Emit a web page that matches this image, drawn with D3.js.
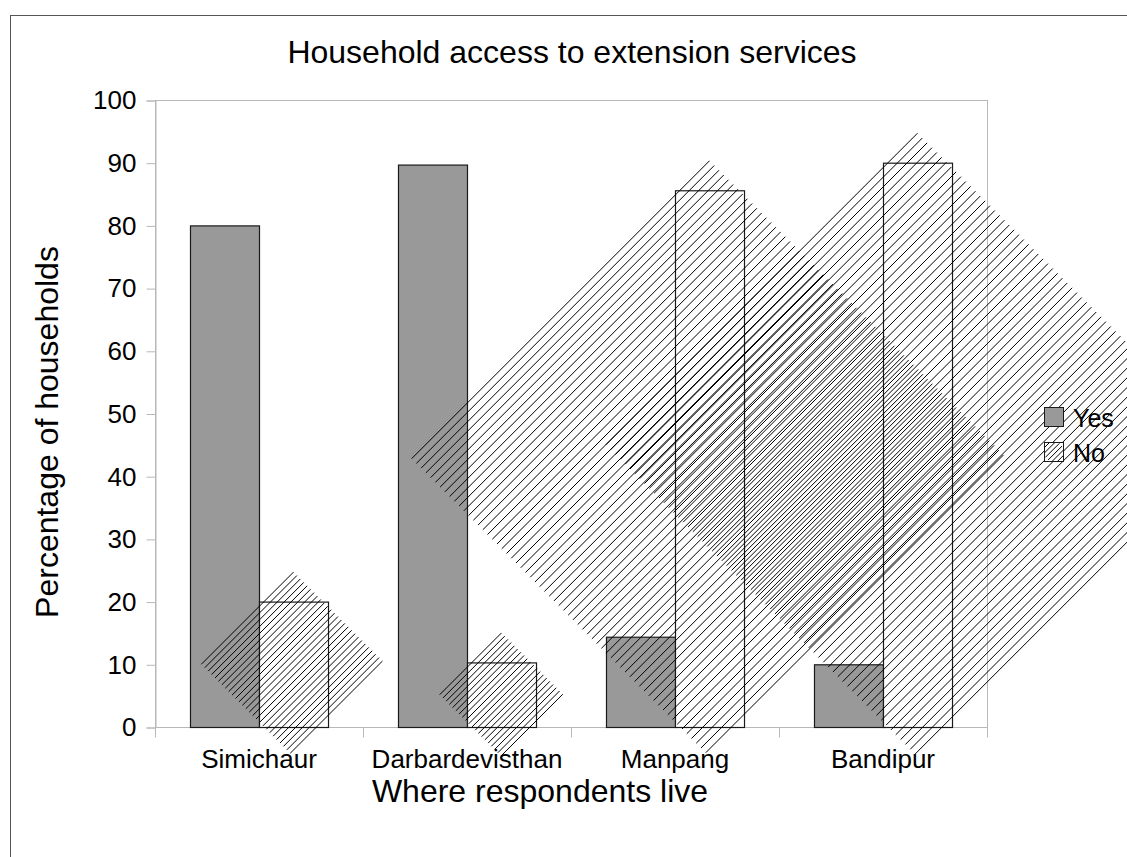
<!DOCTYPE html>
<html>
<head>
<meta charset="utf-8">
<script src="https://cdn.jsdelivr.net/npm/d3@7"></script>
<style>
  html, body { margin: 0; padding: 0; background: #fff; }
  svg { display: block; font-family: "Liberation Sans", Arial, sans-serif; }
</style>
</head>
<body>
<svg id="chart" width="1127" height="857"></svg>
<script>
// Survey results: share of households with / without access to extension services
const categories = ["Simichaur", "Darbardevisthan", "Manpang", "Bandipur"];
const seriesNames = ["Yes", "No"];
const yesValues = [80, 89.7, 14.4, 10];
const noValues = [20, 10.3, 85.6, 90];
const yTicks = [0, 10, 20, 30, 40, 50, 60, 70, 80, 90, 100];

const chartTitle = "Household access to extension services";
const xTitle = "Where respondents live";
const yTitle = "Percentage of households";

const svg = d3.select("#chart");
const W = 1127, H = 857;
const plot = { left: 155, right: 987, top: 100, bottom: 727 };

// outer frame
svg.append("rect")
  .attr("x", 10.5).attr("y", 15.5)
  .attr("width", W + 20).attr("height", H + 20)
  .attr("fill", "#fff").attr("stroke", "#555").attr("stroke-width", 1);

// plot area frame
svg.append("rect")
  .attr("x", plot.left + 0.5).attr("y", plot.top + 0.5)
  .attr("width", plot.right - plot.left).attr("height", plot.bottom - plot.top)
  .attr("fill", "none").attr("stroke", "#b8b8b8");

const x0 = d3.scaleBand().domain(categories).range([plot.left, plot.right]).padding(0);
const x1 = d3.scaleBand().domain(seriesNames).range([0, x0.bandwidth()])
  .paddingInner(0).paddingOuter(0.507);
const y = d3.scaleLinear().domain([0, 100]).range([plot.bottom, plot.top]);

// y axis
const yAxis = svg.append("g").attr("transform", `translate(${plot.left + 0.5},0.5)`)
  .call(d3.axisLeft(y).tickValues(yTicks).tickSize(9).tickPadding(10).tickFormat(d3.format("d")));
yAxis.select(".domain").attr("stroke", "#b8b8b8");
yAxis.selectAll(".tick line").attr("stroke", "#b8b8b8");
yAxis.selectAll(".tick text").attr("font-size", 26).attr("fill", "#000")
  .attr("font-family", "Liberation Sans, Arial, sans-serif");

// x axis: ticks sit on the category boundaries
const xAxisG = svg.append("g").attr("transform", `translate(0,${plot.bottom + 0.5})`);
xAxisG.append("line").attr("x1", plot.left).attr("x2", plot.right)
  .attr("stroke", "#b8b8b8");
const bounds = categories.map(c => x0(c)).concat([plot.right]);
xAxisG.selectAll("line.tk").data(bounds).join("line").attr("class", "tk")
  .attr("x1", d => d + 0.5).attr("x2", d => d + 0.5).attr("y1", 0).attr("y2", 10)
  .attr("stroke", "#b8b8b8");
xAxisG.selectAll("text").data(categories).join("text")
  .attr("x", d => x0(d) + x0.bandwidth() / 2).attr("y", 40)
  .attr("text-anchor", "middle").attr("font-size", 26).attr("fill", "#000")
  .text(d => d);

// bars
const rows = categories.map((c, i) => ({ cat: c, Yes: yesValues[i], No: noValues[i] }));
const fills = { Yes: "#999999", No: "#ffffff" };
const barsG = svg.append("g");
rows.forEach(r => {
  seriesNames.forEach(s => {
    barsG.append("rect")
      .attr("x", x0(r.cat) + x1(s) + 0.5)
      .attr("y", y(r[s]) + 0.5)
      .attr("width", x1.bandwidth())
      .attr("height", y(0) - y(r[s]))
      .attr("fill", fills[s])
      .attr("stroke", "#1a1a1a").attr("stroke-width", 1.2);
  });
});

// diagonal hatching of the "No" series (drawn as a 45° square around each bar)
function hatch(g, cx, cy, R, gap, width) {
  const step = gap * Math.SQRT2;
  for (let u = -R; u <= R + 0.01; u += step) {
    g.append("line")
      .attr("x1", cx + (u - R) / 2).attr("y1", cy + (u + R) / 2)
      .attr("x2", cx + (u + R) / 2).attr("y2", cy + (u - R) / 2)
      .attr("stroke", "#000").attr("stroke-width", width);
  }
}
const hatchG = svg.append("g");
rows.forEach(r => {
  const bx = x0(r.cat) + x1("No");
  const bw = x1.bandwidth();
  const top = y(r.No), bh = y(0) - y(r.No);
  const R = (bw + bh) / 2 - 5;
  hatch(hatchG, bx + bw / 2, top + bh / 2, R, 4 + R / 110, 1);
});

// legend
const legend = svg.append("g");
const legendY = [407, 442];
seriesNames.forEach((s, i) => {
  const gy = legendY[i];
  legend.append("rect").attr("x", 1044.5).attr("y", gy + 0.5).attr("width", 19).attr("height", 19)
    .attr("fill", fills[s]).attr("stroke", "#1a1a1a");
  if (s === "No") {
    const clip = svg.append("clipPath").attr("id", "swatchClip");
    clip.append("rect").attr("x", 1045).attr("y", gy + 1).attr("width", 18).attr("height", 18);
    const hg = legend.append("g").attr("clip-path", "url(#swatchClip)");
    hatch(hg, 1054, gy + 10, 14, 3.8, 1);
  }
  legend.append("text").attr("x", 1073).attr("y", gy + 20).attr("font-size", 25).attr("fill", "#000").text(s);
});

// titles
svg.append("text").attr("x", 572).attr("y", 63).attr("text-anchor", "middle")
  .attr("font-size", 32).attr("fill", "#000").text(chartTitle);
svg.append("text").attr("x", 540).attr("y", 802).attr("text-anchor", "middle")
  .attr("font-size", 32).attr("fill", "#000").text(xTitle);
svg.append("text").attr("transform", "translate(58,432) rotate(-90)").attr("text-anchor", "middle")
  .attr("font-size", 32).attr("fill", "#000").text(yTitle);
</script>
</body>
</html>
